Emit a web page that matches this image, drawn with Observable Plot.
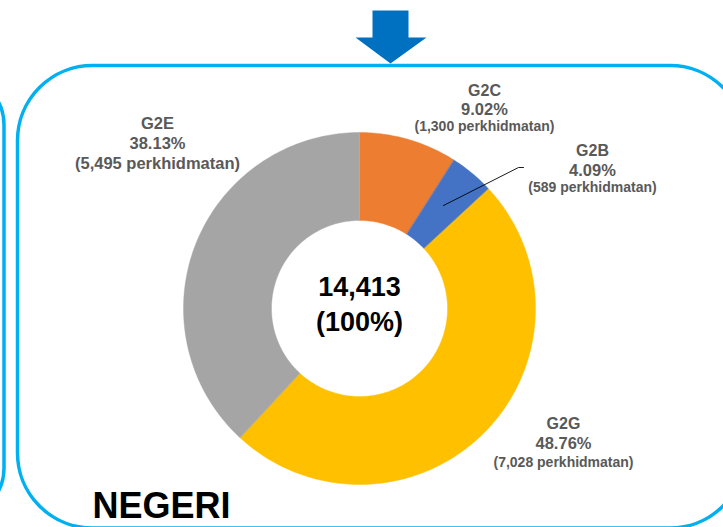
<!DOCTYPE html>
<html>
<head>
<meta charset="utf-8">
<script src="https://cdn.jsdelivr.net/npm/d3@7"></script>
<script src="https://cdn.jsdelivr.net/npm/@observablehq/plot@0.6"></script>
<style>
  html, body { margin: 0; padding: 0; background: #fff; overflow: hidden; }
  svg { display: block; }
</style>
</head>
<body>
<div id="chart"></div>
<script>
// ---- data ----
const categories = ["G2C", "G2B", "G2G", "G2E"];
const counts = [1300, 589, 7028, 5495];
const percents = [9.02, 4.09, 48.76, 38.13];
const totalLabel = "14,413";
const totalPctLabel = "(100%)";
const regionLabel = "NEGERI";
const unitWord = "perkhidmatan";

// ---- styles ----
const sliceColors = ["#ED7D31", "#4472C4", "#FFC000", "#A5A5A5"];
const labelColor = "#595959";
const borderColor = "#00B0F0";
const arrowColor = "#0070C0";
const font = "'Liberation Sans', Arial, sans-serif";

// ---- layout ----
const W = 723, H = 527;
const cx = 359, cy = 308, rOuter = 176, rInner = 88;
const labelPos = {
  G2C: {x: 484, y: [90, 109, 126], size: [16, 16.5, 14]},
  G2B: {x: 592, y: [150, 170, 187], size: [16, 16.5, 14]},
  G2G: {x: 563, y: [423, 443, 462], size: [16, 16.5, 14]},
  G2E: {x: 157, y: [123, 143, 163], size: [16.5, 16.5, 16.5]}
};
const leader = [[443, 205], [518, 167], [523, 167]];

// slice polygons from percentages (clockwise from 12 o'clock)
const slicePts = [];
let acc = 0;
categories.forEach((k, i) => {
  const a0 = acc / 100 * 2 * Math.PI;
  acc += percents[i];
  const a1 = acc / 100 * 2 * Math.PI;
  const n = Math.max(4, Math.ceil((a1 - a0) / (Math.PI / 180)));
  for (let j = 0; j <= n; j++) {
    const a = a0 + (a1 - a0) * j / n;
    slicePts.push({key: k, x: cx + rOuter * Math.sin(a), y: cy - rOuter * Math.cos(a)});
  }
  for (let j = n; j >= 0; j--) {
    const a = a0 + (a1 - a0) * j / n;
    slicePts.push({key: k, x: cx + rInner * Math.sin(a), y: cy - rInner * Math.cos(a)});
  }
});

// label rows
const labelRows = [];
categories.forEach((k, i) => {
  const p = labelPos[k];
  const lines = [k, percents[i].toFixed(2) + "%", "(" + d3.format(",")(counts[i]) + " " + unitWord + ")"];
  lines.forEach((t, j) => labelRows.push({text: t, x: p.x, y: p.y[j], size: p.size[j]}));
});

// arrow polygon
const arrow = [[372, 10], [408, 10], [408, 37], [426, 37], [390, 63], [355, 37], [372, 37]];

const sizes = [...new Set(labelRows.map(d => d.size))];

const chart = Plot.plot({
  width: W, height: H,
  margin: 0,
  x: {type: "identity", axis: null},
  y: {type: "identity", axis: null},
  color: {domain: categories, range: sliceColors},
  style: {background: "#fff", fontFamily: font},
  marks: [
    // frames
    Plot.rect([0], {x1: -300, x2: 4, y1: 75, y2: 518, rx: 50, fill: "none", stroke: borderColor, strokeWidth: 3.5}),
    Plot.rect([0], {x1: 17.5, x2: 745, y1: 65.5, y2: 528, rx: 75, fill: "none", stroke: borderColor, strokeWidth: 3.5}),
    // arrow
    Plot.line(arrow, {x: d => d[0], y: d => d[1], fill: arrowColor, stroke: "none", curve: "linear-closed"}),
    // donut
    Plot.line(slicePts, {x: "x", y: "y", z: "key", fill: "key", stroke: "key", strokeWidth: 0.4, curve: "linear-closed"}),
    // leader line
    Plot.line(leader, {x: d => d[0], y: d => d[1], stroke: "#000", strokeWidth: 0.9}),
    // labels
    ...sizes.map(s => Plot.text(labelRows.filter(d => d.size === s), {
      x: "x", y: "y", text: "text", fontSize: s, fontWeight: "bold", fill: labelColor, textAnchor: "middle"
    })),
    // centre
    Plot.text([totalLabel, totalPctLabel], {x: cx, y: (d, i) => [287, 322][i], text: d => d, fontSize: 27, fontWeight: "bold", fill: "#000"}),
    // region label
    Plot.text([regionLabel], {x: 92, y: 506, text: d => d, fontSize: 36, fontWeight: "bold", fill: "#000", textAnchor: "start"})
  ]
});
document.getElementById("chart").append(chart);
</script>
</body>
</html>
